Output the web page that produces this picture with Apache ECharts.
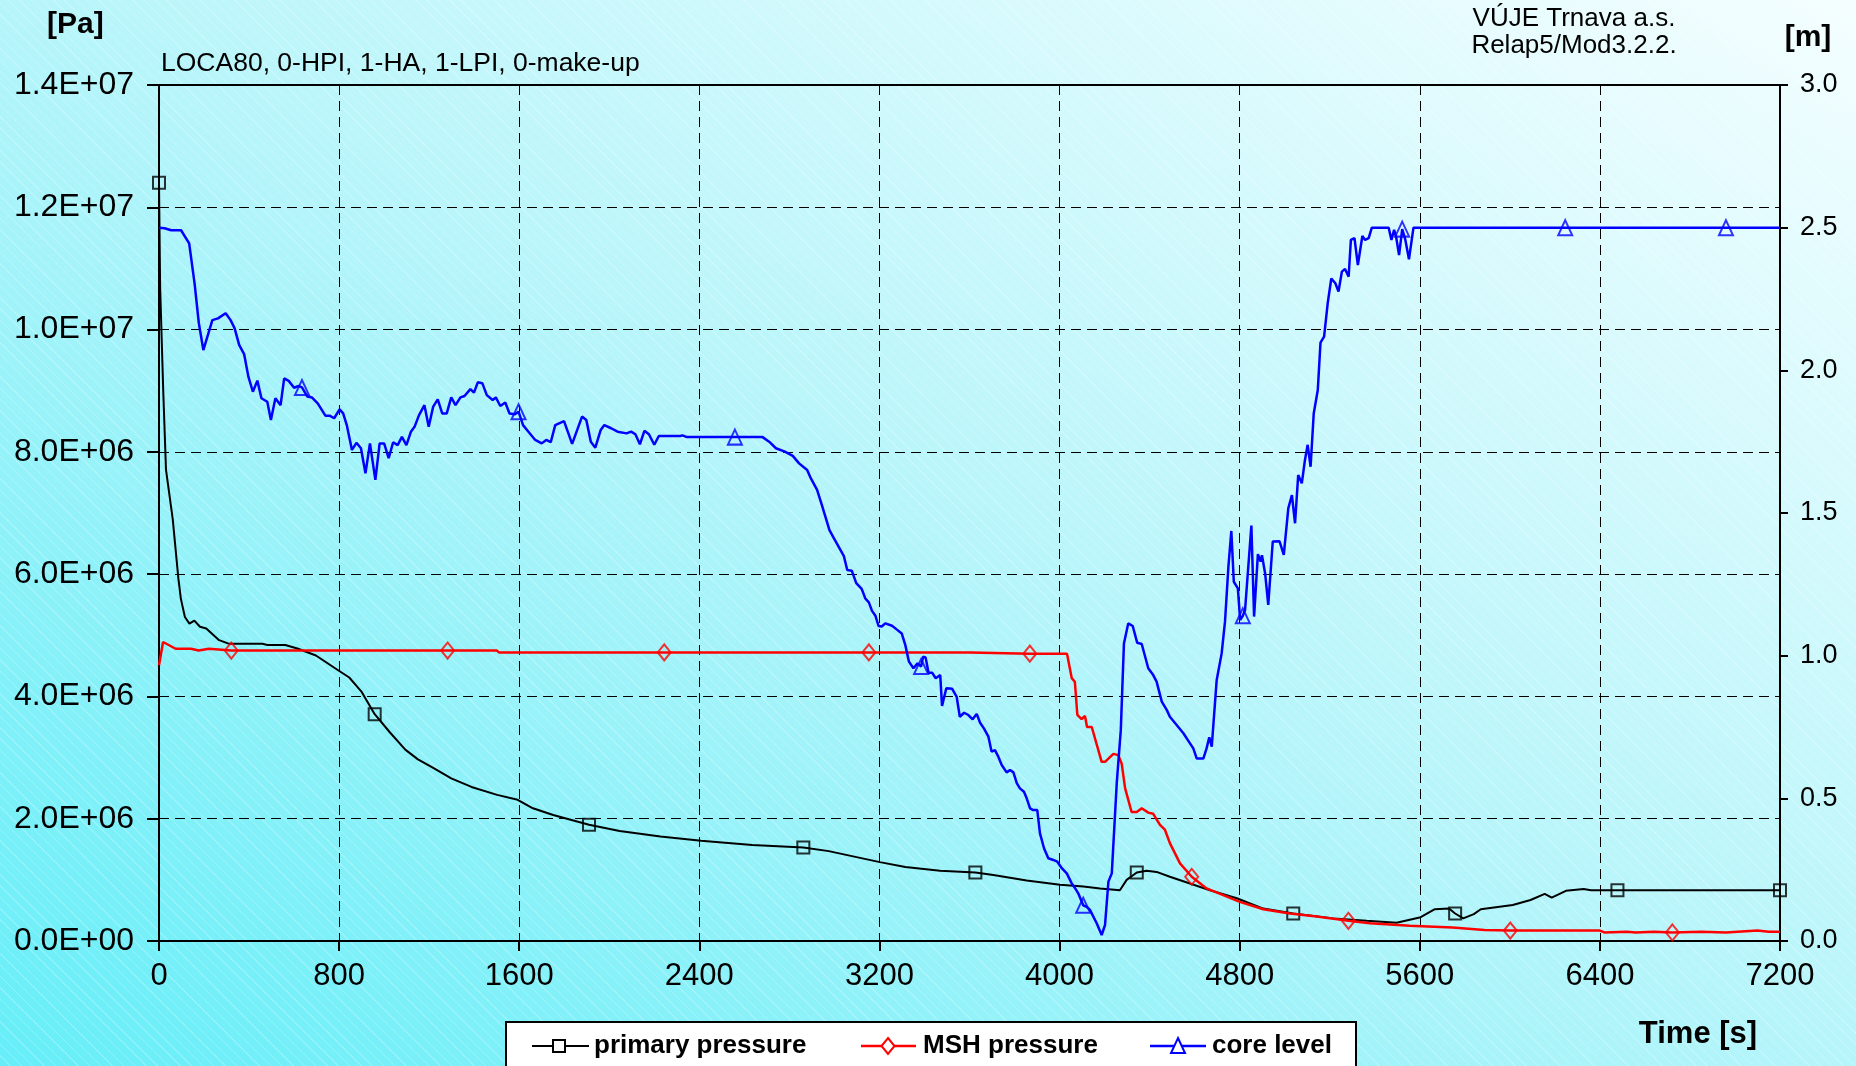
<!DOCTYPE html>
<html>
<head>
<meta charset="utf-8">
<script src="https://cdn.jsdelivr.net/npm/echarts@6/dist/echarts.min.js"></script>
<style>
html,body{margin:0;padding:0;width:1856px;height:1066px;overflow:hidden;}
body{
  background:
    repeating-linear-gradient(45deg, rgba(255,255,255,0) 0px, rgba(255,255,255,0) 7px, rgba(255,255,255,0.22) 7px, rgba(255,255,255,0.22) 8px),
    linear-gradient(to top right, #66EEF8 0%, #B6F5FA 50%, #F4FEFF 100%);
}
#chart{width:1856px;height:1066px;}
</style>
</head>
<body>
<div id="chart"></div>
<script>
// ---------------- data ----------------
const xTicks = [0, 800, 1600, 2400, 3200, 4000, 4800, 5600, 6400, 7200];

const primaryTime = [0,5,19,31,61,86,97,115,135,157,182,210,267,312,459,482,561,618,697,799,845,901,958,1026,1094,1150,1218,1298,1388,1502,1593,1661,1751,1910,2046,2227,2408,2635,2862,2975,3088,3202,3315,3469,3626,3706,3854,4002,4106,4180,4268,4298,4343,4387,4431,4490,4579,4668,4787,4905,5038,5216,5364,5497,5604,5667,5730,5757,5793,5840,5871,6013,6092,6155,6186,6249,6328,6360,6478,7200];
const primaryPa = [1.24e7,1.07e7,8.98e6,7.71e6,6.90e6,5.93e6,5.60e6,5.30e6,5.19e6,5.24e6,5.14e6,5.11e6,4.92e6,4.86e6,4.86e6,4.84e6,4.84e6,4.78e6,4.67e6,4.42e6,4.31e6,4.07e6,3.71e6,3.41e6,3.13e6,2.97e6,2.83e6,2.66e6,2.52e6,2.39e6,2.31e6,2.17e6,2.06e6,1.90e6,1.80e6,1.71e6,1.64e6,1.57e6,1.53e6,1.47e6,1.38e6,1.29e6,1.21e6,1.15e6,1.12e6,1.08e6,0.99e6,0.92e6,0.89e6,0.86e6,0.83e6,1.00e6,1.12e6,1.15e6,1.13e6,1.05e6,0.94e6,0.83e6,0.70e6,0.53e6,0.45e6,0.37e6,0.33e6,0.30e6,0.39e6,0.52e6,0.53e6,0.45e6,0.37e6,0.44e6,0.52e6,0.59e6,0.67e6,0.77e6,0.71e6,0.82e6,0.85e6,0.83e6,0.83e6,0.83e6];
const primaryMarkTimes = [0,958,1910,2862,3626,4343,5038,5757,6478,7200];

const mshTime = [0,18,74,142,176,222,321,1282,1501,1510,2244,3153,3602,3610,3868,4033,4054,4068,4079,4098,4113,4122,4143,4187,4202,4239,4261,4276,4291,4320,4343,4365,4394,4416,4446,4468,4490,4535,4587,4653,4727,4801,4905,5023,5142,5283,5379,5556,5745,5887,6002,6400,6420,6520,6560,6640,6722,6850,6960,7100,7150,7200];
const mshPa = [4.51e6,4.89e6,4.78e6,4.78e6,4.75e6,4.78e6,4.75e6,4.75e6,4.75e6,4.72e6,4.72e6,4.72e6,4.72e6,4.70e6,4.70e6,4.70e6,4.30e6,4.24e6,3.70e6,3.63e6,3.68e6,3.50e6,3.50e6,2.93e6,2.93e6,3.06e6,3.04e6,2.90e6,2.50e6,2.11e6,2.11e6,2.17e6,2.10e6,2.08e6,1.90e6,1.82e6,1.60e6,1.27e6,1.05e6,0.86e6,0.75e6,0.64e6,0.52e6,0.45e6,0.40e6,0.33e6,0.29e6,0.25e6,0.22e6,0.18e6,0.17e6,0.17e6,0.14e6,0.15e6,0.14e6,0.15e6,0.14e6,0.15e6,0.14e6,0.17e6,0.15e6,0.15e6];
const mshMarkTimes = [321,1282,2244,3153,3868,4587,5283,6002,6722];

const coreTime = [0,25,54,98,134,158,177,197,237,262,296,318,336,356,378,397,417,437,455,481,497,517,540,556,576,600,620,635,659,679,705,739,758,778,802,818,834,857,877,897,917,937,961,980,1000,1020,1040,1060,1079,1099,1119,1135,1155,1179,1198,1218,1238,1258,1278,1298,1317,1339,1357,1383,1399,1416,1436,1456,1482,1496,1516,1538,1557,1581,1597,1617,1641,1671,1700,1720,1740,1760,1799,1835,1879,1898,1918,1938,1962,1978,2008,2037,2077,2097,2116,2136,2156,2176,2200,2220,2315,2325,2345,2558,2681,2710,2740,2780,2815,2843,2879,2895,2923,2942,2978,2998,3042,3057,3077,3097,3121,3137,3153,3167,3182,3196,3210,3226,3256,3275,3299,3315,3331,3351,3369,3385,3394,3405,3418,3434,3450,3470,3478,3497,3523,3543,3557,3576,3595,3614,3632,3647,3664,3684,3698,3713,3728,3743,3765,3780,3795,3810,3824,3842,3854,3869,3883,3901,3913,3931,3950,3972,3990,4010,4032,4054,4069,4083,4105,4120,4135,4165,4187,4202,4217,4232,4254,4272,4286,4305,4325,4345,4365,4394,4416,4431,4454,4476,4490,4550,4594,4609,4639,4653,4665,4676,4698,4720,4735,4750,4763,4774,4792,4802,4814,4824,4852,4864,4881,4893,4899,4913,4927,4947,4977,4996,5016,5032,5046,5060,5076,5090,5102,5115,5129,5147,5159,5175,5191,5207,5225,5239,5254,5268,5284,5294,5310,5325,5345,5357,5373,5387,5462,5474,5486,5496,5508,5522,5536,5552,5572,6246,6960,7200];
const coreLevel = [2.500,2.498,2.491,2.491,2.445,2.305,2.165,2.071,2.176,2.182,2.200,2.176,2.147,2.089,2.057,1.978,1.925,1.964,1.902,1.890,1.826,1.902,1.878,1.972,1.963,1.939,1.945,1.940,1.908,1.905,1.884,1.841,1.841,1.832,1.863,1.849,1.808,1.721,1.746,1.727,1.639,1.744,1.616,1.744,1.744,1.692,1.748,1.738,1.767,1.738,1.785,1.802,1.843,1.878,1.802,1.873,1.898,1.849,1.849,1.905,1.878,1.905,1.910,1.934,1.922,1.958,1.955,1.913,1.896,1.905,1.875,1.887,1.849,1.846,1.855,1.808,1.785,1.756,1.744,1.756,1.748,1.808,1.822,1.742,1.838,1.826,1.750,1.729,1.791,1.808,1.797,1.785,1.779,1.785,1.776,1.741,1.788,1.776,1.739,1.770,1.770,1.772,1.766,1.766,1.766,1.750,1.727,1.715,1.700,1.674,1.651,1.622,1.581,1.534,1.440,1.411,1.349,1.300,1.298,1.254,1.234,1.201,1.187,1.157,1.140,1.104,1.102,1.113,1.105,1.093,1.078,1.037,0.979,0.956,0.973,0.962,0.996,0.994,0.940,0.940,0.921,0.932,0.824,0.886,0.884,0.856,0.786,0.800,0.792,0.777,0.796,0.765,0.745,0.716,0.664,0.669,0.646,0.617,0.591,0.599,0.591,0.553,0.535,0.523,0.500,0.465,0.459,0.459,0.377,0.325,0.290,0.284,0.278,0.255,0.237,0.202,0.185,0.167,0.125,0.120,0.109,0.062,0.021,0.056,0.208,0.237,0.553,0.739,1.043,1.113,1.104,1.045,1.041,0.956,0.932,0.909,0.839,0.810,0.786,0.728,0.675,0.640,0.640,0.675,0.714,0.681,0.915,1.008,1.120,1.312,1.437,1.259,1.236,1.125,1.140,1.160,1.456,1.137,1.356,1.330,1.352,1.289,1.178,1.400,1.401,1.353,1.516,1.563,1.464,1.633,1.604,1.686,1.739,1.662,1.849,1.931,2.097,2.118,2.235,2.322,2.305,2.276,2.346,2.355,2.328,2.457,2.463,2.369,2.471,2.457,2.463,2.500,2.500,2.457,2.492,2.463,2.404,2.495,2.457,2.389,2.500,2.500,2.500,2.500];
const coreMarkTimes = [635,1597,2558,3385,4105,4814,5522,6246,6960];

const seriesNames = ['primary pressure', 'MSH pressure', 'core level'];
const seriesColors = ['#000000', '#FF0000', '#0000FF'];

// ---------------- helpers ----------------
function pairs(ts, vs){ return ts.map((t,i)=>[t, vs[i]]); }
function marks(ts, vs, markTimes){
  const out = [];
  markTimes.forEach(mt => { const i = ts.indexOf(mt); if (i >= 0) out.push([ts[i], vs[i]]); });
  return out;
}
function sci(v){
  if (v === 0) return '0.0E+00';
  const e = Math.floor(Math.log10(v) + 1e-9);
  const m = v / Math.pow(10, e);
  return m.toFixed(1) + 'E+' + String(e).padStart(2, '0');
}

const FONT = '"Liberation Sans", Arial, sans-serif';
const chart = echarts.init(document.getElementById('chart'), null, {renderer:'canvas'});

const lineCommon = { type:'line', showSymbol:false, symbol:'none', smooth:false, animation:false, silent:true };
const markCommon = { type:'scatter', animation:false, silent:true };

const option = {
  animation: false,
  backgroundColor: 'transparent',
  grid: { left:159, right:76, top:85, bottom:125, show:true, borderColor:'#000', borderWidth:2, backgroundColor:'transparent' },
  xAxis: {
    type:'value', min:0, max:7200, interval:800,
    axisLine:{ show:true, onZero:false, lineStyle:{ color:'#000', width:2 } },
    axisTick:{ show:true, length:10, lineStyle:{ color:'#000', width:2 } },
    axisLabel:{ color:'#000', fontSize:31, fontFamily:FONT, margin:20, formatter: v => String(v) },
    splitLine:{ show:true, lineStyle:{ color:'#000', width:1, type:[10,6] } }
  },
  yAxis: [
    {
      type:'value', min:0, max:1.4e7, interval:2e6, position:'left',
      axisLine:{ show:true, onZero:false, lineStyle:{ color:'#000', width:2 } },
      axisTick:{ show:true, length:12, lineStyle:{ color:'#000', width:2 } },
      axisLabel:{ color:'#000', fontSize:32, fontFamily:FONT, margin:25, formatter: v => sci(v) },
      splitLine:{ show:true, lineStyle:{ color:'#000', width:1, type:[10,6] } }
    },
    {
      type:'value', min:0, max:3, interval:0.5, position:'right',
      axisLine:{ show:true, onZero:false, lineStyle:{ color:'#000', width:2 } },
      axisTick:{ show:true, length:8, lineStyle:{ color:'#000', width:2 } },
      axisLabel:{ color:'#000', fontSize:27, fontFamily:FONT, margin:20, formatter: v => v.toFixed(1) },
      splitLine:{ show:false }
    }
  ],
  series: [
    Object.assign({}, lineCommon, { name:seriesNames[0], yAxisIndex:0, z:2, data:pairs(primaryTime, primaryPa), lineStyle:{ color:seriesColors[0], width:2 } }),
    Object.assign({}, markCommon, { name:seriesNames[0]+' marks', yAxisIndex:0, z:3, symbol:'rect', symbolSize:[12,12], data:marks(primaryTime, primaryPa, primaryMarkTimes), itemStyle:{ color:'rgba(0,0,0,0)', borderColor:seriesColors[0], borderWidth:2 } }),
    Object.assign({}, lineCommon, { name:seriesNames[1], yAxisIndex:0, z:4, data:pairs(mshTime, mshPa), lineStyle:{ color:seriesColors[1], width:2.5 } }),
    Object.assign({}, markCommon, { name:seriesNames[1]+' marks', yAxisIndex:0, z:5, symbol:'diamond', symbolSize:[13,16], data:marks(mshTime, mshPa, mshMarkTimes), itemStyle:{ color:'rgba(0,0,0,0)', borderColor:seriesColors[1], borderWidth:2 } }),
    Object.assign({}, lineCommon, { name:seriesNames[2], yAxisIndex:1, z:6, data:pairs(coreTime, coreLevel), lineStyle:{ color:seriesColors[2], width:2.5 } }),
    Object.assign({}, markCommon, { name:seriesNames[2]+' marks', yAxisIndex:1, z:7, symbol:'triangle', symbolSize:[14,15], data:marks(coreTime, coreLevel, coreMarkTimes), itemStyle:{ color:'rgba(0,0,0,0)', borderColor:seriesColors[2], borderWidth:2 } })
  ],
  graphic: [
    { type:'text', left:47, top:10, style:{ text:'[Pa]', font:'bold 30px '+FONT, fill:'#000' } },
    { type:'text', left:161, top:50, style:{ text:'LOCA80, 0-HPI, 1-HA, 1-LPI, 0-make-up', font:'26.5px '+FONT, fill:'#000' } },
    { type:'text', x:1574, y:19, style:{ text:'VÚJE Trnava a.s.', font:'26px '+FONT, fill:'#000', textAlign:'center', textVerticalAlign:'middle' } },
    { type:'text', x:1574, y:46, style:{ text:'Relap5/Mod3.2.2.', font:'26px '+FONT, fill:'#000', textAlign:'center', textVerticalAlign:'middle' } },
    { type:'text', x:1808, y:38, style:{ text:'[m]', font:'bold 30px '+FONT, fill:'#000', textAlign:'center', textVerticalAlign:'middle' } },
    { type:'text', x:1698, y:1034, style:{ text:'Time [s]', font:'bold 31px '+FONT, fill:'#000', textAlign:'center', textVerticalAlign:'middle' } },
    // legend box
    { type:'rect', shape:{ x:506, y:1022, width:850, height:70 }, style:{ fill:'#FFFFFF', stroke:'#000', lineWidth:2 }, z:10 },
    { type:'line', shape:{ x1:532, y1:1046, x2:589, y2:1046 }, style:{ stroke:seriesColors[0], lineWidth:2 }, z:11 },
    { type:'rect', shape:{ x:553, y:1040, width:12, height:12 }, style:{ fill:'#FFFFFF', stroke:seriesColors[0], lineWidth:2 }, z:12 },
    { type:'text', x:594, y:1046, style:{ text:seriesNames[0], font:'bold 26px '+FONT, fill:'#000', textVerticalAlign:'middle' }, z:12 },
    { type:'line', shape:{ x1:861, y1:1046, x2:916, y2:1046 }, style:{ stroke:seriesColors[1], lineWidth:2.5 }, z:11 },
    { type:'polygon', shape:{ points:[[888,1038],[894.5,1046],[888,1054],[881.5,1046]] }, style:{ fill:'#FFFFFF', stroke:seriesColors[1], lineWidth:2 }, z:12 },
    { type:'text', x:923, y:1046, style:{ text:seriesNames[1], font:'bold 26px '+FONT, fill:'#000', textVerticalAlign:'middle' }, z:12 },
    { type:'line', shape:{ x1:1150, y1:1046, x2:1206, y2:1046 }, style:{ stroke:seriesColors[2], lineWidth:2.5 }, z:11 },
    { type:'polygon', shape:{ points:[[1178,1038],[1185,1053],[1171,1053]] }, style:{ fill:'#FFFFFF', stroke:seriesColors[2], lineWidth:2 }, z:12 },
    { type:'text', x:1212, y:1046, style:{ text:seriesNames[2], font:'bold 26px '+FONT, fill:'#000', textVerticalAlign:'middle' }, z:12 }
  ]
};
chart.setOption(option);
</script>
</body>
</html>
